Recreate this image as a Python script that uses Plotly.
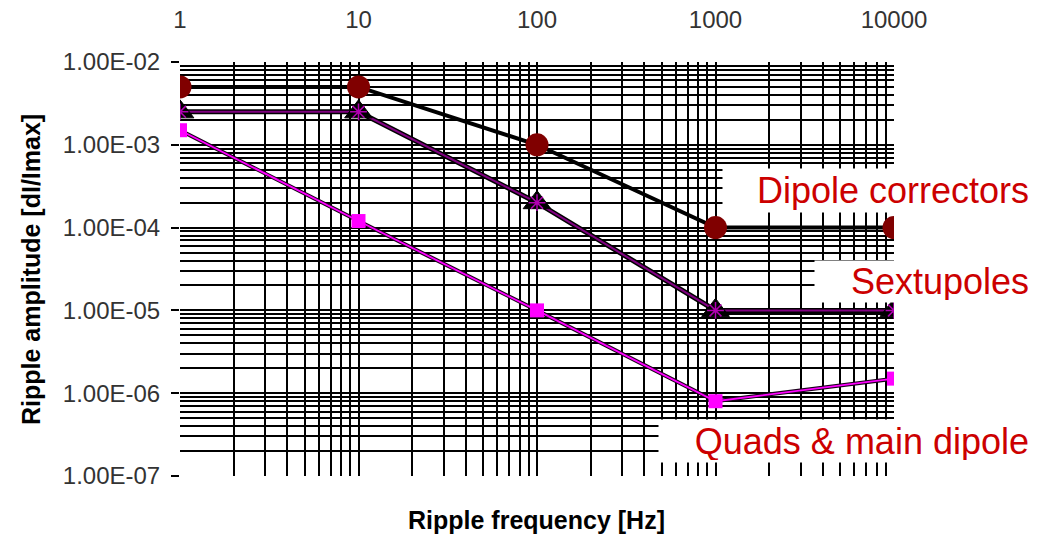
import plotly.graph_objects as go

# ---- data ----
freq = [1, 10, 100, 1000, 10000]
dipole_correctors = [5e-3, 5e-3, 1e-3, 1e-4, 1e-4]
sextupoles = [2.5e-3, 2.5e-3, 2e-4, 1e-5, 1e-5]
quads_main_dipole = [1.5e-3, 1.2e-4, 1e-5, 8e-7, 1.5e-6]

x_major = [1, 10, 100, 1000, 10000]
x_major_text = ["1", "10", "100", "1000", "10000"]
y_major = [1e-7, 1e-6, 1e-5, 1e-4, 1e-3, 1e-2]
y_major_text = ["1.00E-07", "1.00E-06", "1.00E-05", "1.00E-04", "1.00E-03", "1.00E-02"]
mult = [2, 3, 4, 5, 6, 7, 8, 9]
x_minor = [m * d for d in [1, 10, 100, 1000] for m in mult]
y_minor = [m * d for d in [1e-7, 1e-6, 1e-5, 1e-4, 1e-3] for m in mult]

labels = ["Dipole correctors", "Sextupoles", "Quads & main dipole"]

fig = go.Figure()

# Quads & main dipole: magenta line with dark outline, magenta squares
fig.add_trace(go.Scatter(x=freq, y=quads_main_dipole, mode="lines",
                         line=dict(color="#1a001a", width=4), hoverinfo="skip"))
fig.add_trace(go.Scatter(x=freq, y=quads_main_dipole, mode="lines+markers",
                         line=dict(color="#ff00ff", width=1.8),
                         marker=dict(symbol="square", size=14, color="#ff00ff")))

# Sextupoles: purple line with black outline, black triangles with purple asterisks
fig.add_trace(go.Scatter(x=freq, y=sextupoles, mode="lines",
                         line=dict(color="#000000", width=5), hoverinfo="skip"))
fig.add_trace(go.Scatter(x=freq, y=sextupoles, mode="lines",
                         line=dict(color="#800080", width=2), hoverinfo="skip"))
fig.add_trace(go.Scatter(x=freq, y=sextupoles, mode="markers",
                         marker=dict(symbol="triangle-up", size=24, color="#000000",
                                     line=dict(color="#000000", width=1))))
fig.add_trace(go.Scatter(x=freq, y=sextupoles, mode="markers",
                         marker=dict(symbol="asterisk-open", size=14, color="#b000b0",
                                     line=dict(color="#b000b0", width=1.5)),
                         hoverinfo="skip"))

# Dipole correctors: thick black line, dark red circles
fig.add_trace(go.Scatter(x=freq, y=dipole_correctors, mode="lines+markers",
                         line=dict(color="#000000", width=4),
                         marker=dict(symbol="circle", size=23, color="#800000")))

grid = dict(gridcolor="#000000", gridwidth=1.7)

fig.update_xaxes(type="log", range=[0, 4], side="top", automargin=False,
                 tickmode="array", tickvals=x_major, ticktext=x_major_text,
                 ticks="", ticklabelstandoff=28,
                 tickfont=dict(family="Liberation Sans", size=24, color="#333333"),
                 showline=False, zeroline=False, showgrid=True, **grid,
                 minor=dict(tickmode="array", tickvals=x_minor, showgrid=True,
                            gridcolor="#000000", gridwidth=1.7, ticks=""))
fig.update_yaxes(type="log", range=[-7, -2], automargin=False,
                 tickmode="array", tickvals=y_major, ticktext=y_major_text,
                 ticks="outside", ticklen=8, tickcolor="#000000", tickwidth=1.7,
                 ticklabelstandoff=6,
                 tickfont=dict(family="Liberation Sans", size=24, color="#333333"),
                 showline=False, zeroline=False, showgrid=True, **grid,
                 minor=dict(tickmode="array", tickvals=y_minor, showgrid=True,
                            gridcolor="#000000", gridwidth=1.7, ticks=""))

lab_font = dict(family="Liberation Sans", size=36, color="#cc0000")
boxes = [  # (label, x right edge paper, y center paper, width, height)
    (labels[0], 1.193, 0.690, 304, 39),
    (labels[1], 1.193, 0.470, 212, 37),
    (labels[2], 1.193, 0.085, 368, 38),
]
for text, xr, yc, w, h in boxes:
    fig.add_annotation(text=text, xref="paper", yref="paper", x=xr, y=yc,
                       xanchor="right", yanchor="middle", showarrow=False,
                       width=w, height=h, align="right", valign="middle",
                       bgcolor="#ffffff", borderpad=2, font=lab_font)

title_font = dict(family="Liberation Sans", size=25, color="#000000", weight="bold")
fig.add_annotation(text="Ripple frequency [Hz]", xref="paper", yref="paper",
                   x=(536 - 180) / 714, y=-(520 - 476) / 414, xanchor="center",
                   yanchor="middle", showarrow=False, font=title_font)
fig.add_annotation(text="Ripple amplitude [dI/Imax]", xref="paper", yref="paper",
                   x=-(180 - 31) / 714, y=(476 - 270) / 414, xanchor="center",
                   yanchor="middle", textangle=-90, showarrow=False, font=title_font)

fig.update_layout(width=1049, height=534, showlegend=False,
                  margin=dict(l=180, r=155, t=62, b=58),
                  plot_bgcolor="#ffffff", paper_bgcolor="#ffffff")

fig.write_html("out.html")
